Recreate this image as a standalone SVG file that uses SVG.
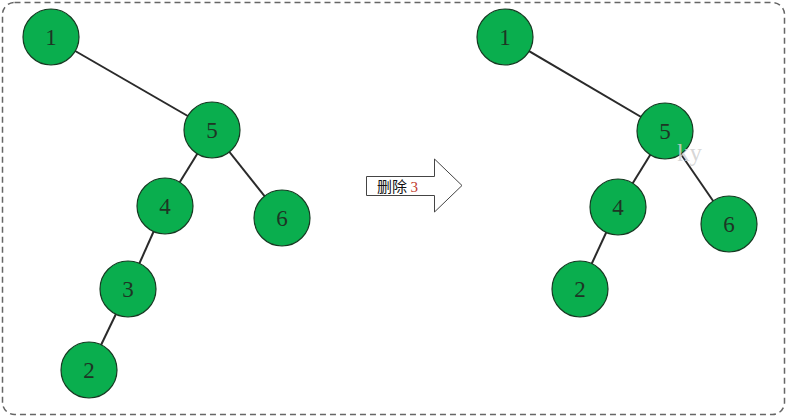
<svg xmlns="http://www.w3.org/2000/svg" width="787" height="417" viewBox="0 0 787 417">
<style>
.n circle{fill:#0aae4e;stroke:#163a22;stroke-width:1.2}
.n text{font-family:"Liberation Serif","DejaVu Serif",serif;font-size:23px;fill:#1e3524;text-anchor:middle;dominant-baseline:central}
.e line{stroke:#2a2a2a;stroke-width:2}
</style>
<rect x="0" y="0" width="787" height="417" fill="#fff"/>
<rect x="2.5" y="2.5" width="782" height="412" rx="12" fill="none" stroke="#666" stroke-width="1.5" stroke-dasharray="6,4"/>
<g id="connectors" class="e">
<line x1="51" y1="37" x2="212" y2="130"/>
<line x1="212" y1="130" x2="165" y2="206"/>
<line x1="212" y1="130" x2="282" y2="218"/>
<line x1="165" y1="206" x2="128" y2="289"/>
<line x1="128" y1="289" x2="89" y2="370"/>
<line x1="505" y1="37" x2="665" y2="131"/>
<line x1="665" y1="131" x2="618" y2="207"/>
<line x1="665" y1="131" x2="729" y2="224"/>
<line x1="618" y1="207" x2="580" y2="289"/>
</g>
<g id="L1" class="n"><circle cx="51" cy="37" r="28"/><text x="51" y="37">1</text></g>
<g id="L5" class="n"><circle cx="212" cy="130" r="28"/><text x="212" y="130">5</text></g>
<g id="L4" class="n"><circle cx="165" cy="206" r="28"/><text x="165" y="206">4</text></g>
<g id="L6" class="n"><circle cx="282" cy="218" r="28"/><text x="282" y="218">6</text></g>
<g id="L3" class="n"><circle cx="128" cy="289" r="28"/><text x="128" y="289">3</text></g>
<g id="L2" class="n"><circle cx="89" cy="370" r="28"/><text x="89" y="370">2</text></g>
<g id="R1" class="n"><circle cx="505" cy="37" r="28"/><text x="505" y="37">1</text></g>
<g id="R5" class="n"><circle cx="665" cy="131" r="28"/><text x="665" y="131">5</text></g>
<g id="R4" class="n"><circle cx="618" cy="207" r="28"/><text x="618" y="207">4</text></g>
<g id="R6" class="n"><circle cx="729" cy="224" r="28"/><text x="729" y="224">6</text></g>
<g id="R2" class="n"><circle cx="580" cy="289" r="28"/><text x="580" y="289">2</text></g>
<text x="677" y="161" font-family="Liberation Serif,serif" font-size="25" fill="#d0d0d0" fill-opacity="0.85">ky</text>
<g id="arrow">
<path d="M366.5 176.5 H434.5 V159 L462 185.5 L434.5 212 V195.5 H366.5 Z" fill="#fff" stroke="#444" stroke-width="1"/>
<text x="377" y="192" font-family="Noto Sans CJK SC,sans-serif" font-size="15" fill="#111">删除 <tspan font-family="Liberation Serif,serif" fill="#c0392b">3</tspan></text>
</g>
</svg>
